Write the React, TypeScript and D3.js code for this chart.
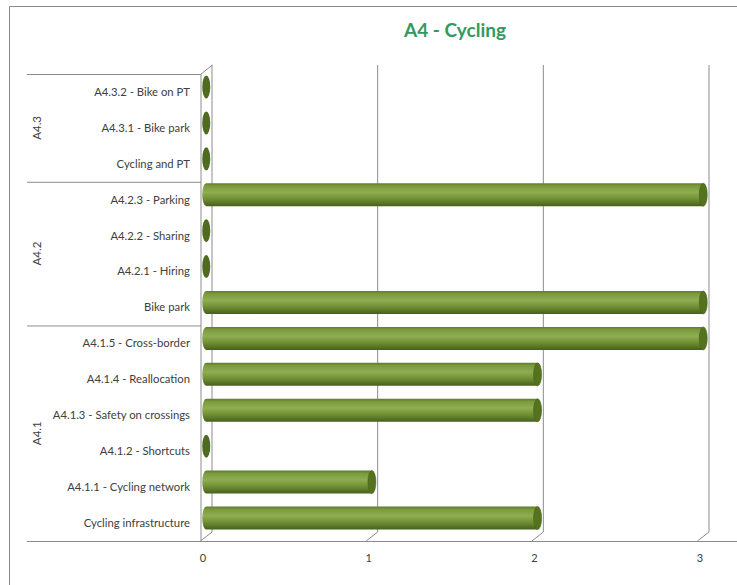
import * as React from 'react'
import * as d3 from 'd3'

const categories = [
    'A4.3.2 - Bike on PT',
    'A4.3.1 - Bike park',
    'Cycling and PT',
    'A4.2.3 - Parking',
    'A4.2.2 - Sharing',
    'A4.2.1 - Hiring',
    'Bike park',
    'A4.1.5 - Cross-border',
    'A4.1.4 - Reallocation',
    'A4.1.3 - Safety on crossings',
    'A4.1.2 - Shortcuts',
    'A4.1.1 - Cycling network',
    'Cycling infrastructure',
]
const values = [0, 0, 0, 3, 0, 0, 3, 3, 2, 2, 0, 1, 2]
const groups = ['A4.3', 'A4.2', 'A4.1']
const groupSizes = [3, 4, 6]
const ticks = [0, 1, 2, 3]

export default function App() {
    const W = 737
    const H = 585
    const TOP = 74
    const FLOOR = 541
    const DX = 11.5
    const DY = -9
    const LABEL_FONT = 'Lato, "Open Sans", sans-serif'
    const GRID = '#8c8c8c'
    const TEXT = '#404040'

    const x = d3.scaleLinear().domain([0, 3]).range([200.5, 697.5])
    const y = d3.scaleBand().domain(categories).range([TOP, FLOOR])
    const bw = y.bandwidth()
    const RY = 11.5
    const RX = 4

    let acc = 0
    const groupBounds = groupSizes.map((n, i) => {
        const start = categories[acc]
        const end = categories[acc + n - 1]
        acc += n
        return { name: groups[i], y0: y(start) as number, y1: (y(end) as number) + bw }
    })

    return <svg width={W} height={H} style={{ position: 'absolute', left: 0, top: 0 }}>
        <defs>
            <linearGradient id="cyl" x1="0" y1="0" x2="0" y2="1">
                <stop offset="0" stopColor="#5f7d28" />
                <stop offset="0.12" stopColor="#7b9a3c" />
                <stop offset="0.4" stopColor="#8fae52" />
                <stop offset="0.7" stopColor="#6f8d33" />
                <stop offset="1" stopColor="#45601c" />
            </linearGradient>
        </defs>
        <rect x={0} y={0} width={W} height={H} fill="#fff" />
        <path d={`M9.5,${H} V6.5 H${W}`} fill="none" stroke="#8a8a8a" />

        <text x={455} y={37} textAnchor="middle" fontFamily='Lato, "Open Sans", sans-serif' fontWeight="bold" fontSize={19} fill="#33995f">A4 - Cycling</text>

        {/* walls and gridlines */}
        <path d={`M201,${FLOOR} V${TOP} l${DX},${DY}`} fill="none" stroke={GRID} />
        {ticks.map(t =>
            <path key={t} d={`M${x(t)},${FLOOR} l${DX},${DY} V${TOP + DY}`} fill="none" stroke={GRID} />
        )}
        <line x1={27} x2={W} y1={FLOOR + 0.5} y2={FLOOR + 0.5} stroke={GRID} />

        {/* group separators and labels */}
        {groupBounds.map((g, i) =>
            <g key={i}>
                <line x1={27} x2={201} y1={g.y0 + 0.5} y2={g.y0 + 0.5} stroke={GRID} />
                <text transform={`translate(41 ${(g.y0 + g.y1) / 2}) rotate(-90)`} textAnchor="middle"
                    fontFamily={LABEL_FONT} fontSize={11.5} fill={TEXT}>{g.name}</text>
            </g>
        )}

        {/* category labels */}
        {categories.map((c, i) =>
            <text key={i} x={190} y={(y(c) as number) + bw / 2 + 1} dominantBaseline="middle" textAnchor="end"
                fontFamily={LABEL_FONT} fontSize={11.3} fill={TEXT}>{c}</text>
        )}

        {/* cylinders */}
        {categories.map((c, i) => {
            const cy = (y(c) as number) + bw / 2 - 5
            const x0 = x(0) + DX / 2
            const x1 = x(values[i]) + DX / 2
            if (values[i] === 0) {
                return <ellipse key={i} cx={x0} cy={cy} rx={RX} ry={RY} fill="#4f6b1f" />
            }
            return <g key={i}>
                <path d={`M${x0},${cy - RY} H${x1} V${cy + RY} H${x0} A${RX},${RY} 0 0 1 ${x0},${cy - RY} Z`} fill="url(#cyl)" />
                <ellipse cx={x1} cy={cy} rx={RX} ry={RY} fill="#55731f" stroke="#48631a" strokeWidth={0.6} />
            </g>
        })}

        {/* value axis labels */}
        {ticks.map(t =>
            <text key={t} x={x(t) + 2.5} y={559} dominantBaseline="middle" textAnchor="middle"
                fontFamily={LABEL_FONT} fontSize={11} fill={TEXT}>{t}</text>
        )}
    </svg>
}
